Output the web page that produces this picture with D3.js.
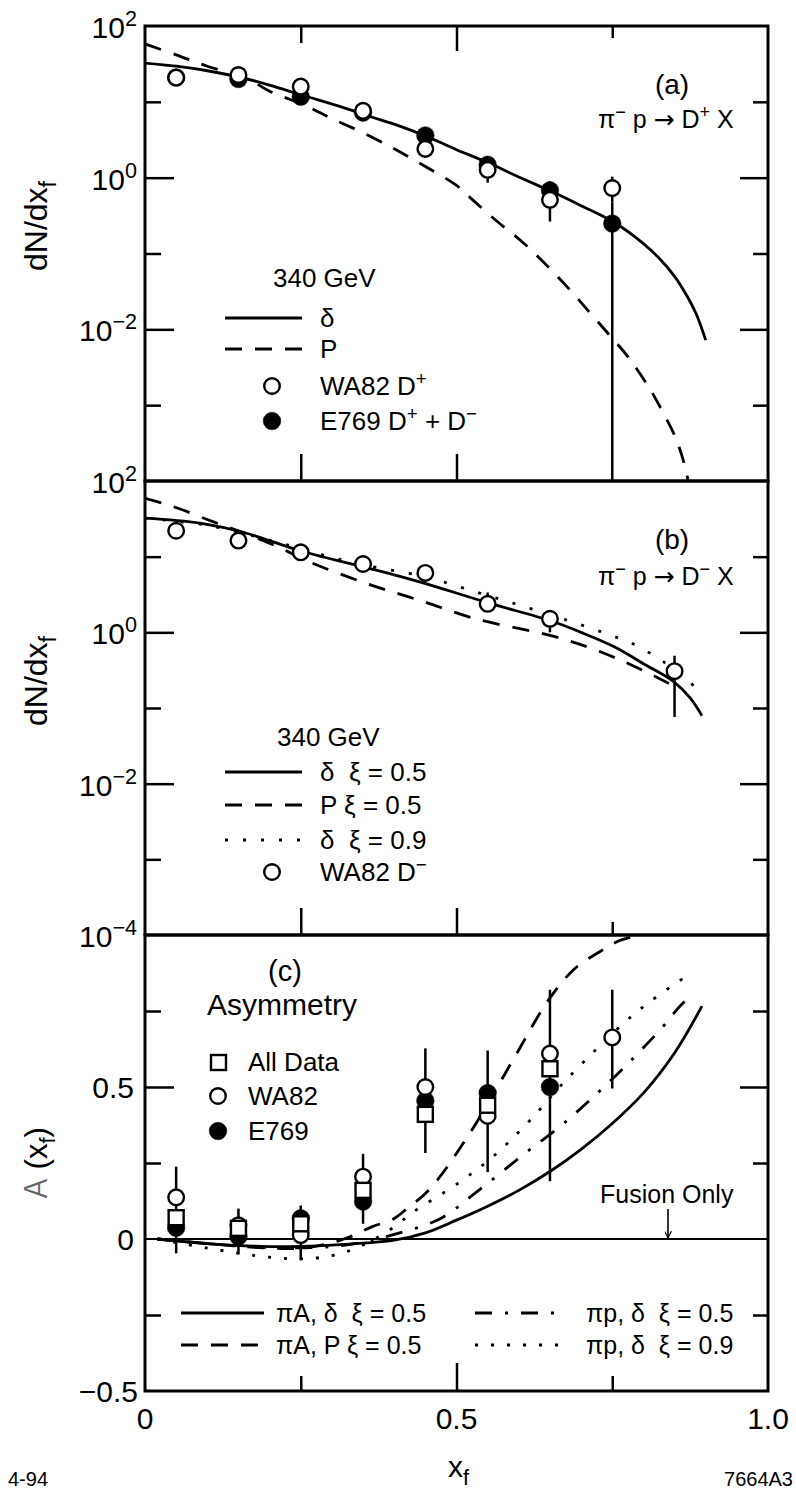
<!DOCTYPE html>
<html><head><meta charset="utf-8">
<script src="https://cdn.jsdelivr.net/npm/d3@7"></script>
<style>
body{margin:0;background:#fff;}
svg text{font-family:"Liberation Sans",Arial,Helvetica,sans-serif;fill:#000;white-space:pre;}
</style></head><body>
<svg id="chart" width="796" height="1490"></svg>
<script>
// ---------------- DATA ----------------
const xBins = [0.05,0.15,0.25,0.35,0.45,0.55,0.65,0.75];

// Panel (a): pi- p -> D+ X
const aWA82 = [20.9,22.6,15.9,7.6,2.4,1.27,0.51,0.73];
const aWA82Err = [null,null,null,null,[1.83,2.6],[0.86,1.9],[0.264,0.89],[0.47,1.03]];
const aE769 = [20.9,20,11.7,7.2,3.6,1.48,0.68,0.248];
const aE769Err = [null,null,null,null,null,null,[0.5,0.89],[1e-6,0.47]];
const aDeltaX = [0,0.05,0.1,0.155,0.2,0.2515,0.321,0.36,0.409,0.452,0.5,0.551,0.6,0.652,0.7,0.754,0.8,0.825,0.85,0.87,0.885,0.9];
const aDeltaY = [32.4,29.5,25.7,20.9,16.6,12.3,8.26,6.46,4.79,3.5,2.34,1.57,1.02,0.66,0.427,0.254,0.135,0.087,0.05,0.0275,0.0158,0.0072];
const aPX = [0,0.05,0.1,0.163,0.2,0.258,0.3,0.348,0.4,0.439,0.5,0.526,0.565,0.606,0.644,0.681,0.713,0.745,0.775,0.81,0.833,0.85,0.863,0.88];
const aPY = [58,41.7,29.5,20.4,13.8,8.9,6.0,3.98,2.4,1.58,0.79,0.51,0.266,0.141,0.0708,0.0339,0.017,0.0085,0.00437,0.00166,7.6e-4,4e-4,2e-4,5e-5];

// Panel (b): pi- p -> D- X
const bX = [0.05,0.15,0.25,0.35,0.45,0.55,0.65,0.85];
const bWA82 = [22,16.3,11.4,8.0,6.1,2.38,1.51,0.307];
const bWA82Err = [null,null,null,null,null,[2.2,3.36],[1.0,1.6],[0.076,0.49]];
const bDeltaX = [0,0.088,0.163,0.253,0.353,0.409,0.452,0.551,0.652,0.7,0.754,0.8,0.849,0.875,0.894];
const bDeltaY = [32.3,27.7,20.4,11.7,7.24,5.5,4.37,2.45,1.41,1.0,0.64,0.385,0.222,0.136,0.079];
const bPX = [0,0.045,0.109,0.163,0.222,0.26,0.356,0.409,0.45,0.532,0.655,0.72,0.784,0.849];
const bPY = [59,46,29,20,12.5,8.8,4.4,3.2,2.5,1.5,0.89,0.6,0.36,0.196];
const bDelta9X = [0,0.1,0.2,0.3,0.35,0.45,0.532,0.6,0.677,0.75,0.784,0.83,0.875,0.89];
const bDelta9Y = [32.3,26,16.5,9.8,7.8,5.4,3.4,2.3,1.45,0.9,0.7,0.42,0.22,0.15];

// Panel (c): asymmetry
const cAll  = [0.07,0.035,0.05,0.16,0.41,0.44,0.56,null];
const cWA82 = [0.137,0.045,0.013,0.205,0.50,0.405,0.61,0.663];
const cE769 = [0.037,0.008,0.068,0.123,0.455,0.48,0.50,null];
const cErrLo = [-0.047,-0.05,-0.07,0.05,0.283,0.22,0.19,0.495];
const cErrHi = [0.238,0.10,0.11,0.28,0.627,0.62,0.82,0.82];
const cAdX = [0.02,0.1,0.2,0.3,0.4,0.45,0.5,0.55,0.6,0.65,0.7,0.75,0.8,0.85,0.894];
const cAdY = [0,-0.015,-0.025,-0.02,-0.004,0.02,0.062,0.108,0.16,0.222,0.295,0.38,0.48,0.612,0.766];
const cAPX = [0.02,0.1,0.2,0.25,0.3,0.33,0.364,0.398,0.42,0.457,0.522,0.591,0.647,0.69,0.73,0.76,0.795];
const cAPY = [0,-0.015,-0.03,-0.03,-0.012,0.008,0.04,0.065,0.099,0.164,0.35,0.59,0.784,0.89,0.945,0.98,1.0];
const cpdX = [0.02,0.1,0.2,0.3,0.35,0.4,0.473,0.538,0.607,0.666,0.72,0.778,0.832,0.856,0.88];
const cpdY = [0,-0.015,-0.028,-0.025,-0.01,0.015,0.066,0.164,0.277,0.37,0.468,0.583,0.70,0.76,0.81];
const cpd9X = [0.02,0.1,0.2,0.25,0.3,0.35,0.4,0.43,0.5,0.554,0.61,0.679,0.77,0.81,0.875];
const cpd9Y = [0,-0.03,-0.06,-0.065,-0.055,-0.02,0.04,0.088,0.18,0.263,0.373,0.53,0.713,0.78,0.873];

const logTicksMajor = [1,0.01];
const logTicksMinor = [10,0.1,0.001];
const linTicksMajor = [0.5];
const linTicksMinor = [0.75,0.25,-0.25];

// ---------------- LAYOUT ----------------
const L = 145, R = 768;
const pa = {top:26, bot:481}, pb = {top:481, bot:935}, pc = {top:935, bot:1391};
const x = d3.scaleLinear().domain([0,1]).range([L,R]);
const ya = d3.scaleLog().domain([1e-4,1e2]).range([pa.bot,pa.top]);
const yb = d3.scaleLog().domain([1e-4,1e2]).range([pb.bot,pb.top]);
const yc = d3.scaleLinear().domain([-0.5,1]).range([pc.bot,pc.top]);

const svg = d3.select("#chart");
const defs = svg.append("defs");
[["ca",pa],["cb",pb],["cc",pc]].forEach(([id,p])=>{
  defs.append("clipPath").attr("id",id).append("rect")
    .attr("x",L).attr("y",p.top).attr("width",R-L).attr("height",p.bot-p.top);
});
defs.append("marker").attr("id","arrow").attr("viewBox","0 0 10 10").attr("refX",10).attr("refY",5)
  .attr("markerWidth",9).attr("markerHeight",7).attr("orient","auto").attr("markerUnits","userSpaceOnUse")
  .append("path").attr("d","M0,0 L10,5 L0,10").attr("fill","none").attr("stroke","#000").attr("stroke-width",1.6);

function rich(g, xx, yy, parts, size, anchor){
  const t = g.append("text").attr("x",xx).attr("y",yy).attr("font-size",size)
    .attr("text-anchor",anchor||"start");
  let cur = 0;
  parts.forEach(p=>{
    const [s,type] = typeof p === "string" ? [p,"n"] : p;
    const off = type==="sup" ? -size*0.4 : type==="sub" ? size*0.28 : 0;
    const ts = t.append("tspan").attr("dy", off-cur).text(s);
    if(type!=="n") ts.attr("font-size", size*0.72);
    if(type==="arrow"){ ts.attr("font-size",size).style("font-family","DejaVu Sans"); }
    cur = off;
  });
  return t;
}

// ---------------- AXES / FRAMES ----------------
function ticks(axisFn, scale, vals, len, tr){
  const a = axisFn(scale).tickValues(vals).tickSize(len).tickFormat("");
  svg.append("g").attr("transform",tr).call(a)
    .call(g=>g.select(".domain").remove())
    .call(g=>g.selectAll("line").attr("stroke","#000").attr("stroke-width",2.5));
}
[[ya,true],[yb,true],[yc,false]].forEach(([s,isLog])=>{
  const maj = isLog ? logTicksMajor : linTicksMajor;
  const min = isLog ? logTicksMinor : linTicksMinor;
  ticks(d3.axisRight, s, maj, 29, `translate(${L},0)`);
  ticks(d3.axisRight, s, min, 16, `translate(${L},0)`);
  ticks(d3.axisLeft, s, maj, 28, `translate(${R},0)`);
  ticks(d3.axisLeft, s, min, 15, `translate(${R},0)`);
});
ticks(d3.axisBottom, x, [0.25], 17, `translate(0,${pa.top})`);
ticks(d3.axisBottom, x, [0.5], 25, `translate(0,${pa.top})`);
ticks(d3.axisBottom, x, [0.75], 12, `translate(0,${pa.top})`);
ticks(d3.axisTop, x, [0.25,0.5], 27, `translate(0,${pa.bot})`);
ticks(d3.axisTop, x, [0.25,0.5], 27, `translate(0,${pb.bot})`);
ticks(d3.axisTop, x, [0.75], 13, `translate(0,${pb.bot})`);
ticks(d3.axisTop, x, [0.5], 28, `translate(0,${pc.bot})`);
ticks(d3.axisTop, x, [0.25,0.75], 15, `translate(0,${pc.bot})`);

svg.append("line").attr("x1",L).attr("x2",R).attr("y1",yc(0)).attr("y2",yc(0))
  .attr("stroke","#000").attr("stroke-width",2);

[pa,pb,pc].forEach(p=>{
  svg.append("rect").attr("x",L).attr("y",p.top).attr("width",R-L).attr("height",p.bot-p.top)
    .attr("fill","none").attr("stroke","#000").attr("stroke-width",3);
});

const labs = svg.append("g");
function expLabel(yy, e){
  rich(labs, 137, yy+12, ["10",[e,"sup"]], 30, "end");
}
expLabel(ya(100),"2"); expLabel(ya(1),"0"); expLabel(ya(0.01),"\u22122");
expLabel(yb(100),"2"); expLabel(yb(1),"0"); expLabel(yb(0.01),"\u22122"); expLabel(yb(1e-4),"\u22124");
[[0.5,"0.5"],[0,"0"],[-0.5,"\u22120.5"]].forEach(([v,s])=>{
  labs.append("text").attr("x", v===-0.5?138:134).attr("y",yc(v)+11).attr("font-size",30)
    .attr("text-anchor","end").text(s);
});
[[0,"0"],[0.5,"0.5"],[1,"1.0"]].forEach(([v,s])=>{
  labs.append("text").attr("x",x(v)).attr("y",1429).attr("font-size",30)
    .attr("text-anchor","middle").text(s);
});

function rotTitle(cy, parts){
  const g = svg.append("g").attr("transform",`translate(47,${cy}) rotate(-90)`);
  return rich(g,0,0,parts,32,"middle");
}
rotTitle(226, ["dN/dx",["f","sub"]]);
rotTitle(681, ["dN/dx",["f","sub"]]);
{
  const g = svg.append("g").attr("transform",`translate(47,1163) rotate(-90)`);
  const t = g.append("text").attr("text-anchor","middle").attr("font-size",31);
  t.append("tspan").text("A").style("font-family","Inter").style("font-weight","300").style("fill","#666");
  t.append("tspan").text(" (x");
  t.append("tspan").attr("dy",8).attr("font-size",22).text("f");
  t.append("tspan").attr("dy",-8).text(")");
}
rich(svg, x(0.5)+2, 1477, ["x",["f","sub"]], 30, "middle");
svg.append("text").attr("x",8).attr("y",1486).attr("font-size",20).text("4-94");
svg.append("text").attr("x",793).attr("y",1486).attr("font-size",20).attr("text-anchor","end").text("7664A3");

// ---------------- MARKS ----------------
function curve(g, xs, ys, ysc, dash){
  const line = d3.line().x(d=>x(d[0])).y(d=>ysc(d[1])).curve(d3.curveCatmullRom.alpha(0.5));
  g.append("path").attr("d", line(xs.map((v,i)=>[v,ys[i]])))
    .attr("fill","none").attr("stroke","#000").attr("stroke-width",2.8)
    .attr("stroke-dasharray", dash||null);
}
function errBars(g, xs, errs, ysc){
  g.selectAll(null).data(xs.map((v,i)=>[v,errs[i]]).filter(d=>d[1]))
    .join("line").attr("x1",d=>x(d[0])).attr("x2",d=>x(d[0]))
    .attr("y1",d=>ysc(d[1][0])).attr("y2",d=>ysc(d[1][1]))
    .attr("stroke","#000").attr("stroke-width",2.5);
}
function circles(g, xs, vals, ysc, filled){
  g.selectAll(null).data(xs.map((v,i)=>[v,vals[i]]).filter(d=>d[1]!=null))
    .join("circle").attr("cx",d=>x(d[0])).attr("cy",d=>ysc(d[1])).attr("r",filled?8.8:7.8)
    .attr("fill",filled?"#000":"#fff").attr("stroke","#000").attr("stroke-width",filled?0.5:2.4);
}
function squares(g, xs, vals, ysc){
  g.selectAll(null).data(xs.map((v,i)=>[v,vals[i]]).filter(d=>d[1]!=null))
    .join("rect").attr("x",d=>x(d[0])-7.5).attr("y",d=>ysc(d[1])-7.5).attr("width",15).attr("height",15)
    .attr("fill","#fff").attr("stroke","#000").attr("stroke-width",2.4);
}
const DASH = "17,13", DOT_B = "3,15", DOT_C = "3,13", DASHDOT = "17,13,3,13";

const ga = svg.append("g").attr("clip-path","url(#ca)");
curve(ga, aDeltaX, aDeltaY, ya);
curve(ga, aPX, aPY, ya, DASH);
errBars(ga, xBins, aE769Err, ya);
errBars(ga, xBins, aWA82Err, ya);
circles(ga, xBins, aE769, ya, true);
circles(ga, xBins, aWA82, ya, false);

const gb = svg.append("g").attr("clip-path","url(#cb)");
curve(gb, bDelta9X, bDelta9Y, yb, DOT_B);
curve(gb, bPX, bPY, yb, DASH);
curve(gb, bDeltaX, bDeltaY, yb);
errBars(gb, bX, bWA82Err, yb);
circles(gb, bX, bWA82, yb, false);

const gc = svg.append("g").attr("clip-path","url(#cc)");
curve(gc, cAdX, cAdY, yc);
curve(gc, cAPX, cAPY, yc, DASH);
curve(gc, cpdX, cpdY, yc, DASHDOT);
curve(gc, cpd9X, cpd9Y, yc, DOT_C);
errBars(gc, xBins, cErrLo.map((v,i)=>[v,cErrHi[i]]), yc);
circles(gc, xBins, cE769, yc, true);
circles(gc, xBins, cWA82, yc, false);
squares(gc, xBins, cAll, yc);

// ---------------- TEXT / LEGENDS ----------------
svg.append("text").attr("x",672).attr("y",94).attr("font-size",28).attr("text-anchor","middle").text("(a)");
rich(svg, 598, 128, ["\u03c0",["\u2212","sup"]," p ",["\u2192","arrow"]," D",["+","sup"]," X"], 25);
svg.append("text").attr("x",273).attr("y",287).attr("font-size",26).text("340 GeV");
function legLine(yy, dash, x1, x2){
  svg.append("line").attr("x1",x1||225).attr("x2",x2||302).attr("y1",yy).attr("y2",yy)
    .attr("stroke","#000").attr("stroke-width",2.8).attr("stroke-dasharray",dash||null);
}
function legCircle(xx, yy, filled){
  svg.append("circle").attr("cx",xx).attr("cy",yy).attr("r",filled?8.8:7.8)
    .attr("fill",filled?"#000":"#fff").attr("stroke","#000").attr("stroke-width",filled?0.5:2.4);
}
legLine(318); rich(svg,320,327,["\u03b4"],26);
legLine(349, DASH); rich(svg,320,358,["P"],26);
legCircle(272,386,false); rich(svg,320,395,["WA82 D",["+","sup"]],26);
legCircle(272,421,true); rich(svg,320,430,["E769 D",["+","sup"]," + D",["\u2212","sup"]],26);

svg.append("text").attr("x",672).attr("y",549).attr("font-size",28).attr("text-anchor","middle").text("(b)");
rich(svg, 598, 585, ["\u03c0",["\u2212","sup"]," p ",["\u2192","arrow"]," D",["\u2212","sup"]," X"], 25);
svg.append("text").attr("x",277).attr("y",746).attr("font-size",26).text("340 GeV");
legLine(772); rich(svg,320,781,["\u03b4  \u03be = 0.5"],26);
legLine(805, DASH); rich(svg,320,814,["P \u03be = 0.5"],26);
legLine(840, DOT_B); rich(svg,320,849,["\u03b4  \u03be = 0.9"],26);
legCircle(272,872,false); rich(svg,320,881,["WA82 D",["\u2212","sup"]],26);

svg.append("text").attr("x",285).attr("y",981).attr("font-size",29).attr("text-anchor","middle").text("(c)");
svg.append("text").attr("x",207).attr("y",1015).attr("font-size",30).text("Asymmetry");
svg.append("rect").attr("x",211).attr("y",1055).attr("width",15).attr("height",15)
  .attr("fill","#fff").attr("stroke","#000").attr("stroke-width",2.4);
svg.append("text").attr("x",248).attr("y",1071).attr("font-size",26).text("All Data");
legCircle(218,1096,false);
svg.append("text").attr("x",248).attr("y",1105).attr("font-size",26).text("WA82");
legCircle(218,1131,true);
svg.append("text").attr("x",248).attr("y",1140).attr("font-size",26).text("E769");

legLine(1313, null, 181, 264); svg.append("text").attr("x",276).attr("y",1322).attr("font-size",25).text("\u03c0A, \u03b4  \u03be = 0.5");
legLine(1345, DASH, 181, 264); svg.append("text").attr("x",276).attr("y",1354).attr("font-size",25).text("\u03c0A, P \u03be = 0.5");
legLine(1313, DASHDOT, 475, 560); svg.append("text").attr("x",586).attr("y",1322).attr("font-size",25).text("\u03c0p, \u03b4  \u03be = 0.5");
legLine(1345, DOT_C, 475, 560); svg.append("text").attr("x",586).attr("y",1354).attr("font-size",25).text("\u03c0p, \u03b4  \u03be = 0.9");

svg.append("text").attr("x",600).attr("y",1203).attr("font-size",25).text("Fusion Only");
svg.append("line").attr("x1",668).attr("x2",668).attr("y1",1209).attr("y2",yc(0)-1)
  .attr("stroke","#000").attr("stroke-width",1.6).attr("marker-end","url(#arrow)");
</script>
</body></html>
